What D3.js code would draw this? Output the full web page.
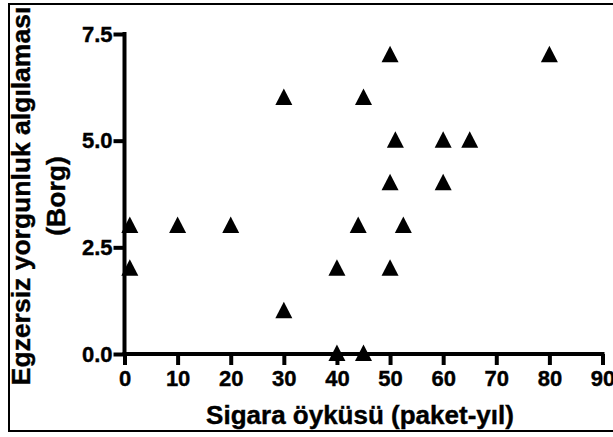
<!DOCTYPE html>
<html>
<head>
<meta charset="utf-8">
<script src="https://cdn.jsdelivr.net/npm/d3@7"></script>
<style>
  html, body { margin: 0; padding: 0; background: #fff; }
  svg { display: block; }
  text { font-family: "Liberation Sans", Arial, sans-serif; font-weight: bold; fill: #000; }
</style>
</head>
<body>
<svg id="chart" width="613" height="437"></svg>
<script>
const packYears = [1, 1, 10, 20, 30, 30, 40, 40, 44, 45, 45, 50, 50, 50, 51, 52.5, 60, 60, 65, 80];
const borgScores = [3, 2, 3, 3, 1, 6, 2, 0, 3, 0, 6, 7, 4, 2, 5, 3, 5, 4, 5, 7];
const xTicks = [0, 10, 20, 30, 40, 50, 60, 70, 80, 90];
const yTicks = [0, 2.5, 5, 7.5];
const xTitle = "Sigara öyküsü (paket-yıl)";
const yTitleLines = ["Egzersiz yorgunluk algılaması", "(Borg)"];

const svg = d3.select("#chart");

// outer frame
svg.append("rect")
  .attr("x", 9).attr("y", 4)
  .attr("width", 620).attr("height", 427)
  .attr("fill", "none").attr("stroke", "#000").attr("stroke-width", 2);

const x = d3.scaleLinear().domain([0, 90]).range([124.5, 602.5]);
const y = d3.scaleLinear().domain([0, 7.5]).range([354, 34]);

// x axis
const xAxis = svg.append("g").attr("transform", "translate(0,354)")
  .call(d3.axisBottom(x).tickValues(xTicks).tickFormat(d3.format("d")).tickSize(11).tickSizeOuter(0).tickPadding(5));
// y axis
const yAxis = svg.append("g").attr("transform", "translate(124.5,0)")
  .call(d3.axisLeft(y).tickValues(yTicks).tickFormat(d3.format(".1f")).tickSize(11).tickSizeOuter(0).tickPadding(1));

[xAxis, yAxis].forEach(g => {
  g.select(".domain").attr("stroke", "#000").attr("stroke-width", 4).attr("stroke-linecap", "square");
  g.selectAll(".tick line").attr("stroke", "#000").attr("stroke-width", 4);
  g.selectAll(".tick text").attr("font-family", "Liberation Sans, Arial, sans-serif")
    .attr("font-weight", "bold").attr("font-size", 22).attr("fill", "#000")
    .attr("stroke", "#000").attr("stroke-width", 0.4);
});
xAxis.select(".domain").attr("d", `M${x(0)},0H${x(90)}`);
yAxis.select(".domain").attr("d", `M0,${y(0)}V${y(7.5)}`);

// points (filled triangles)
const tri = "M0,-9.5L8.5,7L-8.5,7Z";
svg.append("g").selectAll("path")
  .data(packYears.map((v, i) => [v, borgScores[i]]))
  .join("path")
  .attr("d", tri)
  .attr("transform", d => `translate(${x(d[0])},${y(d[1])})`)
  .attr("fill", "#000");

// axis titles
svg.append("text")
  .attr("x", 360).attr("y", 424)
  .attr("text-anchor", "middle")
  .attr("font-size", 26)
  .attr("stroke", "#000").attr("stroke-width", 0.4)
  .text(xTitle);

const yt = svg.append("g").attr("transform", "translate(0,196) rotate(-90)");
yt.append("text").attr("x", 0).attr("y", 30).attr("text-anchor", "middle")
  .attr("font-size", 26.5).attr("stroke", "#000").attr("stroke-width", 0.4)
  .text(yTitleLines[0]);
yt.append("text").attr("x", 0).attr("y", 65).attr("text-anchor", "middle")
  .attr("font-size", 26.5).attr("stroke", "#000").attr("stroke-width", 0.4)
  .text(yTitleLines[1]);
</script>
</body>
</html>
